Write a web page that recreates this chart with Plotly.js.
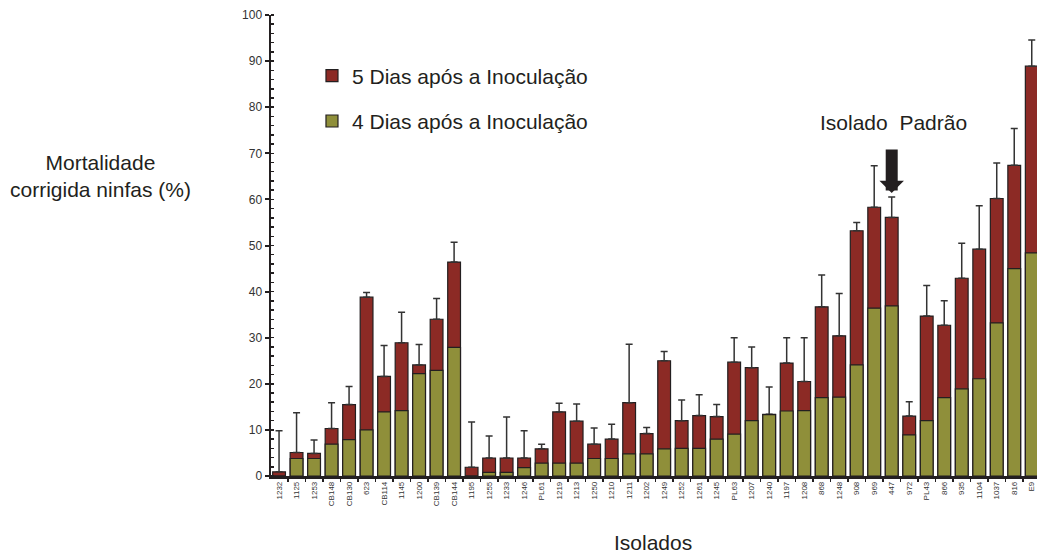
<!DOCTYPE html>
<html>
<head>
<meta charset="utf-8">
<script src="https://cdn.plot.ly/plotly-3.0.1.min.js"></script>
<style>
  html, body { margin: 0; padding: 0; background: #fff; }
  #chart { width: 1037px; height: 554px; }
</style>
</head>
<body>
<div id="chart"></div>
<script>
const isolados = ["1232","1125","1253","CB148","CB130","623","CB114","1145","1200","CB139","CB144",
  "1195","1255","1233","1246","PL61","1219","1213","1250","1210","1211","1202",
  "1249","1252","1261","1245","PL63","1207","1240","1197","1208","868","1248",
  "908","969","447","972","PL43","866","935","1104","1037","816","E9"];

const dias5 = [0.9,5.1,4.9,10.3,15.5,38.8,21.6,28.9,24.1,34.0,46.4,
  1.9,3.9,3.9,3.9,5.9,13.9,11.9,6.9,8.0,15.9,9.2,
  25.0,12.0,13.1,12.9,24.7,23.5,13.4,24.5,20.5,36.7,30.4,
  53.2,58.3,56.1,13.0,34.7,32.7,42.9,49.2,60.2,67.4,88.9];

const dias4 = [0,3.8,3.8,6.9,7.9,10.0,13.9,14.2,22.2,22.9,27.9,
  0,0.8,0.8,1.8,2.8,2.8,2.8,3.8,3.8,4.8,4.8,
  5.9,6.0,6.0,8.0,9.1,12.0,13.3,14.1,14.2,17.0,17.1,
  24.1,36.4,36.9,8.9,12.0,17.0,18.9,21.1,33.2,45.0,48.4];

const erro5 = [8.9,8.6,2.9,5.6,3.9,1.0,6.7,6.6,4.4,4.5,4.3,
  9.8,4.8,8.9,5.9,1.0,1.9,3.7,3.5,3.2,12.7,1.3,
  2.0,4.5,4.5,2.6,5.3,4.5,5.9,5.5,9.5,6.9,9.2,
  1.8,9.0,4.4,3.1,6.6,5.3,7.6,9.4,7.7,8.0,5.7];

const nomes = ["5 Dias após a Inoculação", "4 Dias após a Inoculação"];
const textoY = "Mortalidade<br>corrigida ninfas (%)";
const textoX = "Isolados";
const textoPadrao = "Isolado  Padrão";
const isoladoPadrao = "447";

const fontFam = "Liberation Sans, Arial, Helvetica, sans-serif";
const red = "#8c2a25";
const green = "#8f8f3a";

const traces = [
  {
    type: "bar", x: isolados, y: dias5, name: nomes[0],
    marker: { color: red, line: { color: "#231f20", width: 1.2 } },
    error_y: { type: "data", symmetric: false, array: erro5,
               arrayminus: isolados.map(() => 0),
               color: "#333333", thickness: 1.5, width: 3.5 },
    legendgroup: "a", legendrank: 1, hoverinfo: "skip"
  },
  {
    type: "bar", x: isolados, y: dias4, name: nomes[1],
    marker: { color: green, line: { color: "#231f20", width: 1.2 } },
    legendgroup: "b", legendrank: 2, hoverinfo: "skip"
  }
];

const idxPadrao = isolados.indexOf(isoladoPadrao);
const tipY = dias5[idxPadrao] + erro5[idxPadrao] + 0.9;

const layout = {
  width: 1037, height: 554,
  margin: { l: 271, r: 0, t: 15, b: 78 },
  paper_bgcolor: "#ffffff", plot_bgcolor: "#ffffff",
  barmode: "overlay", bargap: 0.27,
  font: { family: fontFam, color: "#231f20" },
  showlegend: true,
  legend: {
    x: 0.0535, y: 0.912, xanchor: "left", yanchor: "top",
    font: { size: 21, color: "#231f20", family: fontFam },
    traceorder: "grouped", tracegroupgap: 15,
    bgcolor: "rgba(0,0,0,0)", itemwidth: 30
  },
  xaxis: {
    type: "category", range: [-0.46, 43.3],
    showline: true, linecolor: "#231f20", linewidth: 2.5,
    ticks: "outside", tickson: "boundaries", ticklen: 3, tickwidth: 1.5, tickcolor: "#231f20",
    tickangle: -90, tickfont: { size: 8, color: "#333333", family: fontFam },
    showgrid: false, zeroline: false, fixedrange: true
  },
  yaxis: {
    range: [0, 100], dtick: 10, tick0: 0,
    showline: true, linecolor: "#231f20", linewidth: 2.5,
    ticks: "outside", ticklen: 4, tickwidth: 2, tickcolor: "#231f20",
    minor: { dtick: 2, ticks: "inside", ticklen: 3, tickwidth: 1.5, tickcolor: "#231f20" },
    tickfont: { size: 12, color: "#333333", family: fontFam },
    showgrid: false, zeroline: false, fixedrange: true
  },
  annotations: [
    { xref: "paper", yref: "paper", x: -0.2232, y: 0.65, xanchor: "center", yanchor: "middle",
      text: textoY, showarrow: false, align: "center",
      font: { size: 21, color: "#231f20", family: fontFam } },
    { xref: "paper", yref: "paper", x: 0.4987, y: -0.1453, xanchor: "center", yanchor: "middle",
      text: textoX, showarrow: false,
      font: { size: 21, color: "#231f20", family: fontFam } },
    { xref: "x", yref: "y", x: idxPadrao, y: 76.6, xanchor: "center", yanchor: "middle",
      xshift: 2, text: textoPadrao, showarrow: false,
      font: { size: 21, color: "#231f20", family: fontFam } },
    { xref: "x", yref: "y", x: idxPadrao, y: tipY, ax: 0, ay: -45,
      text: "", showarrow: true,
      arrowhead: 1, arrowsize: 0.34, arrowwidth: 12, arrowcolor: "#231f20", standoff: 0 }
  ]
};

Plotly.newPlot("chart", traces, layout, { staticPlot: true, displayModeBar: false });
</script>
</body>
</html>
